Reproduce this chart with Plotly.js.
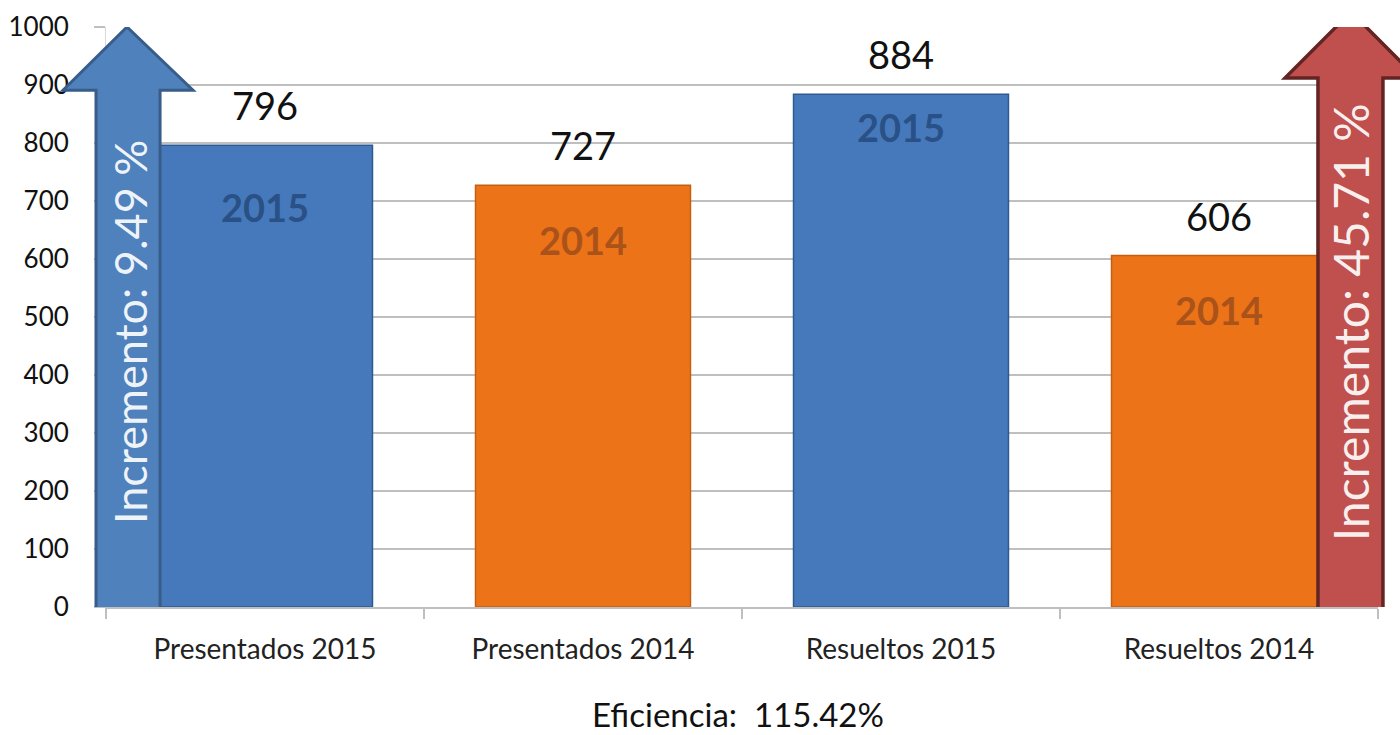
<!DOCTYPE html>
<html><head><meta charset="utf-8">
<script src="https://cdn.plot.ly/plotly-3.0.1.min.js"></script>
<style>html,body{margin:0;padding:0;background:#fff;}#chart{width:1400px;height:735px;}</style>
</head><body><div id="chart"></div>
<script>
var categories = ["Presentados 2015", "Presentados 2014", "Resueltos 2015", "Resueltos 2014"];
var values = [796, 727, 884, 606];
var yearLabels = ["2015", "2014", "2015", "2014"];
var yearLabelY = [690, 633, 828, 512];
var yTicks = [0, 100, 200, 300, 400, 500, 600, 700, 800, 900, 1000];
var increaseLeft = "Incremento: 9.49 %";
var increaseRight = "Incremento: 45.71 %";
var efficiency = "Eficiencia:  115.42%";

var fillColors = ["#4579bb", "#ec7318", "#4579bb", "#ec7318"];
var lineColors = ["#2e5a90", "#c45f12", "#2e5a90", "#c45f12"];
var yearColors = ["#2a5185", "#a9521a", "#2a5185", "#a9521a"];
var font = "Lato, 'Open Sans', sans-serif";

var trace = {
  type: "bar", x: categories, y: values, width: 0.676,
  marker: {color: fillColors, line: {color: lineColors, width: 1.5}},
  hoverinfo: "skip"
};

var annotations = [];
categories.forEach(function (c, i) {
  annotations.push({x: c, y: values[i], xref: "x", yref: "y", text: String(values[i]),
    showarrow: false, yanchor: "middle", yshift: 40, font: {family: font, size: 38, color: "#111"}});
  annotations.push({x: c, y: yearLabelY[i], xref: "x", yref: "y", text: "<b>" + yearLabels[i] + "</b>",
    showarrow: false, yanchor: "middle", font: {family: font, size: 38, color: yearColors[i]}});
});
annotations.push({x: 0.0189, y: 474, xref: "paper", yref: "y", text: increaseLeft, textangle: -90,
  xanchor: "center", yanchor: "middle",
  showarrow: false, font: {family: font, size: 45, color: "rgba(255,255,255,0.92)"}});
annotations.push({x: 0.978, y: 491, xref: "paper", yref: "y", text: increaseRight, textangle: -90,
  xanchor: "center", yanchor: "middle",
  showarrow: false, font: {family: font, size: 48, color: "rgba(255,255,255,0.92)"}});
annotations.push({x: 0.5, y: -0.184, xref: "paper", yref: "paper", text: efficiency, showarrow: false,
  xanchor: "center", yanchor: "middle", xshift: -4, font: {family: font, size: 33, color: "#111"}});

var shapes = [
  {type: "path", xref: "paper", yref: "y", layer: "above",
   path: "M -0.00786,-5 L 0.0425,-5 L 0.0425,891 L 0.0684,891 L 0.0165,1000 L -0.0338,891 L -0.00786,891 Z",
   fillcolor: "#4f81bd", line: {color: "#385d8a", width: 3}},
  {type: "path", xref: "paper", yref: "y", layer: "above",
   path: "M 0.9528,-5 L 1.0039,-5 L 1.0039,912 L 1.0307,912 L 0.9788,1026 L 0.9269,912 L 0.9528,912 Z",
   fillcolor: "#c0504d", line: {color: "#632523", width: 3.5}}
];

var layout = {
  width: 1400, height: 735,
  margin: {l: 106, r: 22, t: 27, b: 128},
  paper_bgcolor: "#fff", plot_bgcolor: "#fff",
  showlegend: false,
  xaxis: {type: "category", tickson: "boundaries", ticks: "outside", ticklen: 10, tickcolor: "#bfbfbf",
    tickwidth: 1.5, showline: true, linecolor: "#bfbfbf", linewidth: 2, showgrid: false,
    tickfont: {family: font, size: 28, color: "#222"}, ticklabelstandoff: 16, fixedrange: true},
  yaxis: {range: [0, 1000], tickvals: yTicks, ticks: "outside", ticklen: 11, tickcolor: "#bfbfbf", tickwidth: 2,
    showgrid: true, gridcolor: "#bfbfbf", gridwidth: 2, showline: true, linecolor: "#d9d9d9", linewidth: 1,
    zeroline: false, tickfont: {family: font, size: 26, color: "#111"}, ticklabelstandoff: 20, fixedrange: true},
  annotations: annotations,
  shapes: shapes,
  bargap: 0.324
};
Plotly.newPlot("chart", [trace], layout, {displayModeBar: false, staticPlot: true});
</script></body></html>
